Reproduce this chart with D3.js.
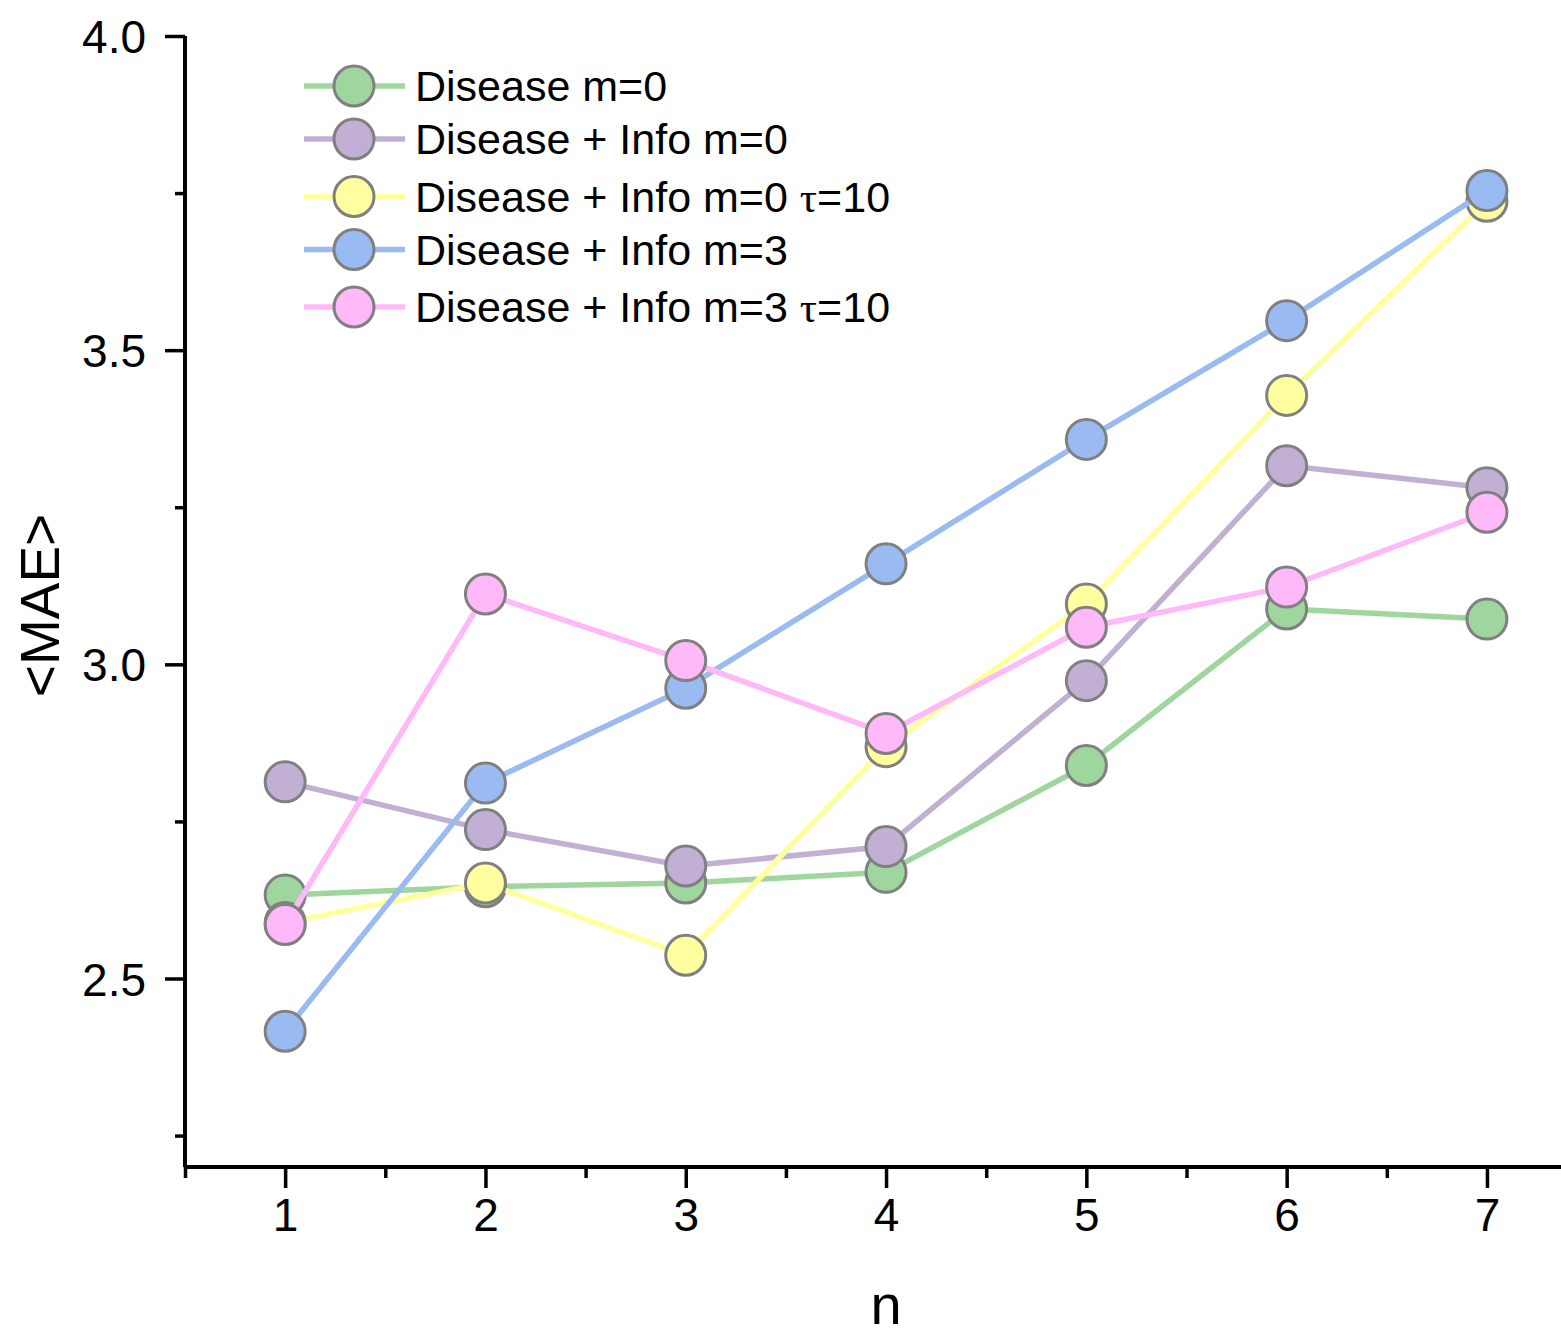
<!DOCTYPE html>
<html>
<head>
<meta charset="utf-8">
<script src="https://cdn.jsdelivr.net/npm/d3@7"></script>
<style>
  html, body { margin: 0; padding: 0; background: #fff; }
  svg { display: block; }
</style>
</head>
<body>
<svg id="chart" width="1561" height="1337"></svg>
<script>
// ---- data ----
const nValues = [1, 2, 3, 4, 5, 6, 7];
const seriesNames = [
  "Disease m=0",
  "Disease + Info m=0",
  "Disease + Info m=0 τ=10",
  "Disease + Info m=3",
  "Disease + Info m=3 τ=10"
];
const diseaseM0      = [2.633, 2.646, 2.652, 2.669, 2.839, 3.088, 3.072];
const infoM0         = [2.813, 2.737, 2.679, 2.710, 2.974, 3.316, 3.281];
const infoM0Tau10    = [2.589, 2.652, 2.537, 2.869, 3.096, 3.428, 3.737];
const infoM3         = [2.416, 2.811, 2.962, 3.160, 3.358, 3.547, 3.754];
const infoM3Tau10    = [2.586, 3.112, 3.006, 2.890, 3.059, 3.123, 3.242];
const seriesColors = ["#9ed69e", "#c1b0d4", "#ffff9f", "#99bbf2", "#ffb8f8"];
const yMajorTicks = [2.5, 3.0, 3.5, 4.0];
const yMinorTicks = [2.25, 2.75, 3.25, 3.75];
const xMajorTicks = [1, 2, 3, 4, 5, 6, 7];
const xMinorTicks = [0.5, 1.5, 2.5, 3.5, 4.5, 5.5, 6.5, 7.5];
const xTitle = "n";
const yTitle = "<MAE>";

const allSeries = [diseaseM0, infoM0, infoM0Tau10, infoM3, infoM3Tau10];

(function draw() {
  const svg = d3.select("#chart");
  const mLeft = 185, mTop = 36, mBottom = 1167;
  const unitX = 200.3;
  const x = d3.scaleLinear().domain([0.5, 7.5]).range([mLeft, mLeft + 7 * unitX]);
  const y = d3.scaleLinear().domain([2.2, 4.0]).range([mBottom, mTop]);

  const fontMain = "'Liberation Sans', Arial, sans-serif";

  const xAxisG = svg.append("g").attr("transform", `translate(0,${mBottom})`);
  xAxisG.call(d3.axisBottom(x).tickValues(xMajorTicks).tickSize(21).tickPadding(10).tickFormat(d3.format("d")));
  const xMinorG = svg.append("g").attr("transform", `translate(0,${mBottom})`);
  xMinorG.call(d3.axisBottom(x).tickValues(xMinorTicks).tickSize(11).tickFormat(""));

  const yAxisG = svg.append("g").attr("transform", `translate(${mLeft},0)`);
  yAxisG.call(d3.axisLeft(y).tickValues(yMajorTicks).tickSize(20).tickPadding(19).tickFormat(d3.format(".1f")));
  const yMinorG = svg.append("g").attr("transform", `translate(${mLeft},0)`);
  yMinorG.call(d3.axisLeft(y).tickValues(yMinorTicks).tickSize(10).tickFormat(""));

  [xAxisG, xMinorG, yAxisG, yMinorG].forEach(g => {
    g.selectAll(".domain").attr("stroke", "#000").attr("stroke-width", 4);
    g.selectAll(".tick line").attr("stroke", "#000").attr("stroke-width", 3.5);
    g.selectAll(".tick text").attr("fill", "#000").attr("font-family", fontMain).attr("font-size", 46);
  });
  xMinorG.select(".domain").remove();
  yMinorG.select(".domain").remove();
  yAxisG.select(".domain").attr("d", `M0,${y(4.0)}V${mBottom}`);
  xAxisG.select(".domain").attr("d", `M${mLeft},0H${1561 + 10}`);
  xAxisG.selectAll(".tick text").attr("dy", "0.71em");
  yAxisG.selectAll(".tick text").attr("dy", "0.36em");

  // axis titles
  svg.append("text")
    .attr("x", (x(1) + x(7)) / 2)
    .attr("y", 1324)
    .attr("text-anchor", "middle")
    .attr("font-family", fontMain)
    .attr("font-size", 56)
    .attr("fill", "#000")
    .text(xTitle);

  svg.append("text")
    .attr("transform", `translate(59,${(mTop + mBottom) / 2 + 4}) rotate(-90)`)
    .attr("text-anchor", "middle")
    .attr("font-family", fontMain)
    .attr("font-size", 55)
    .attr("fill", "#000")
    .text(yTitle);

  // series
  const line = d3.line().x((d, i) => x(nValues[i])).y(d => y(d));
  allSeries.forEach((vals, si) => {
    const g = svg.append("g");
    g.append("path")
      .datum(vals)
      .attr("d", line)
      .attr("fill", "none")
      .attr("stroke", seriesColors[si])
      .attr("stroke-width", 5.5)
      .attr("stroke-linejoin", "round");
    g.selectAll("circle")
      .data(vals)
      .join("circle")
      .attr("cx", (d, i) => x(nValues[i]))
      .attr("cy", d => y(d))
      .attr("r", 20)
      .attr("fill", seriesColors[si])
      .attr("stroke", "#808080")
      .attr("stroke-width", 3);
  });

  // legend
  const legend = svg.append("g");
  let ly = 86;
  seriesNames.forEach((name, i) => {
    const hasTau = name.includes("τ");
    if (i > 0) ly += hasTau ? 57.5 : 53;
    const row = legend.append("g").attr("transform", `translate(0,${ly})`);
    row.append("line")
      .attr("x1", 304).attr("x2", 405).attr("y1", 0).attr("y2", 0)
      .attr("stroke", seriesColors[i]).attr("stroke-width", 5.5);
    row.append("circle")
      .attr("cx", 354).attr("cy", 0).attr("r", 20)
      .attr("fill", seriesColors[i]).attr("stroke", "#808080").attr("stroke-width", 3);
    const t = row.append("text")
      .attr("x", 415).attr("y", 0).attr("dy", "0.36em")
      .attr("font-family", fontMain).attr("font-size", 43).attr("fill", "#000");
    const parts = name.split("τ");
    t.append("tspan").text(parts[0]);
    if (parts.length > 1) {
      t.append("tspan").attr("font-family", "'Liberation Serif', 'Times New Roman', serif").text("τ");
      t.append("tspan").text(parts[1]);
    }
  });
})();
</script>
</body>
</html>
